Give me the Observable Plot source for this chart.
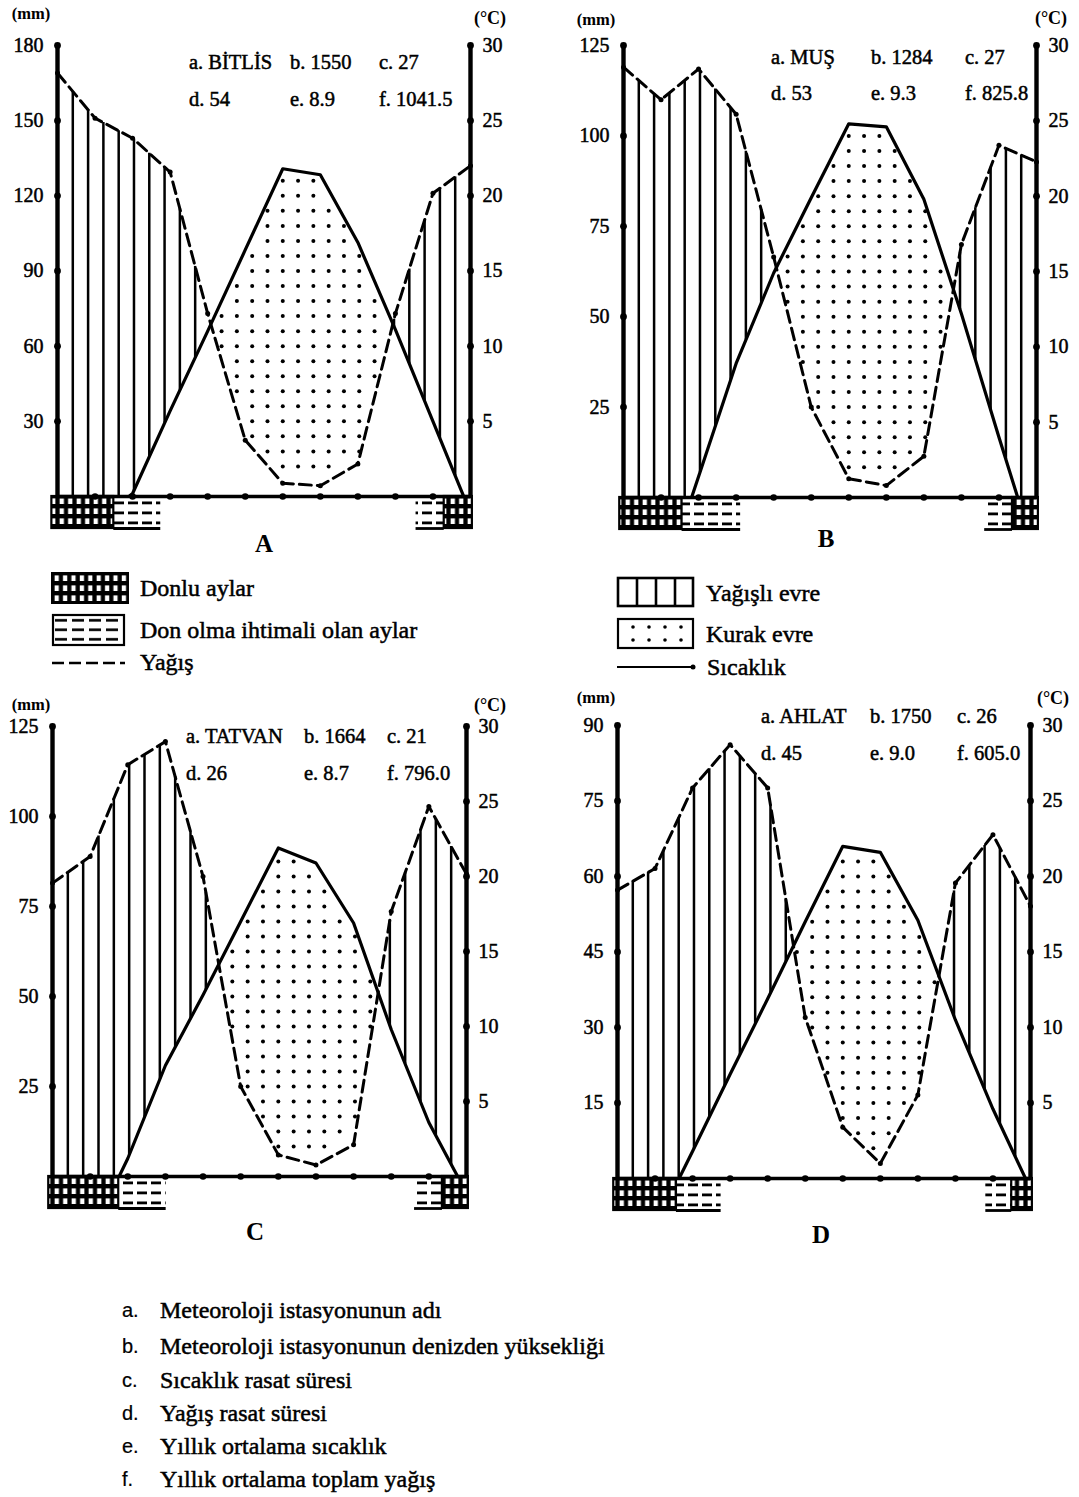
<!DOCTYPE html>
<html><head><meta charset="utf-8">
<script src="https://cdn.jsdelivr.net/npm/d3@7"></script>
<script src="https://cdn.jsdelivr.net/npm/@observablehq/plot@0.6"></script>
<style>
body{margin:0;background:#fff;}
#page{position:relative;width:1079px;height:1497px;overflow:hidden;background:#fff;}
#page svg{position:absolute;overflow:visible;}
.panel text{stroke:#000;stroke-width:0.5px;}
</style></head><body><div id="page"></div>
<script>
// ---------- data ----------
const monthNames = ["Ocak","Şubat","Mart","Nisan","Mayıs","Haziran","Temmuz","Ağustos","Eylül","Ekim","Kasım","Aralık"];
const stationNames = ["BİTLİS","MUŞ","TATVAN","AHLAT"];
const panelLetters = ["A","B","C","D"];
const elevation = ["1550","1284","1664","1750"];
const tempYears = ["27","27","21","26"];
const precipYears = ["54","53","26","45"];
const meanTemp = ["8.9","9.3","8.7","9.0"];
const totalPrecip = ["1041.5","825.8","796.0","605.0"];
const precipMax = [180,125,125,90];
const precipTicks = [[30,60,90,120,150,180],[25,50,75,100,125],[25,50,75,100,125],[15,30,45,60,75,90]];
const tempTicks = [5,10,15,20,25,30];

const precipBitlis = [169,151,143,129.5,73,22.5,5.3,4.3,13,73,121,132];
const tempBitlis   = [-2.0,-1.8,0.2,5.7,11.0,16.4,21.8,21.4,16.9,11.1,5.0,-1.1];
const precipMus    = [119,110,118.5,106,66.5,25,5.2,3.3,11.4,70,97.4,92.8];
const tempMus      = [-8,-6.1,1.4,8.9,14.9,19.9,24.8,24.6,19.8,12.2,4.0,-4.0];
const precipTatvan = [81.5,88.9,114.4,120.8,83.3,25,6,3.2,8.8,73.6,102.8,84];
const tempTatvan   = [-4,-4,1.2,7.4,12.1,17.0,21.9,20.9,16.9,9.8,3.6,-1.1];
const precipAhlat  = [57.3,61.6,77.6,86.2,77.6,32,10.2,3.0,16.6,58.7,68.3,54.1];
const tempAhlat    = [-4,-3.2,1.8,6.9,11.9,17.0,22.0,21.6,17.1,10.5,4.6,-0.7];

// frost periods (month index units, Ocak = 0)
const frostSure = [[[-0.15,1.5],[10.3,11.05]],[[-0.1,1.56],[10.36,11.05]],[[-0.1,1.76],[10.36,11.05]],[[-0.1,1.57],[10.5,11.05]]];
const frostPossible = [[[1.5,2.75],[9.55,10.3]],[[1.56,3.12],[9.62,10.36]],[[1.76,3.02],[9.62,10.36]],[[1.57,2.76],[9.81,10.5]]];

const legendLeft = ["Donlu aylar","Don olma ihtimali olan aylar","Yağış"];
const legendRight = ["Yağışlı evre","Kurak evre","Sıcaklık"];
const noteLetters = ["a.","b.","c.","d.","e.","f."];
const noteTexts = ["Meteoroloji istasyonunun adı","Meteoroloji istasyonunun denizden yüksekliği","Sıcaklık rasat süresi","Yağış rasat süresi","Yıllık ortalama sıcaklık","Yıllık ortalama toplam yağış"];

const precipAll = [precipBitlis, precipMus, precipTatvan, precipAhlat];
const tempAll = [tempBitlis, tempMus, tempTatvan, tempAhlat];

// ---------- layout (page pixels) ----------
const layout = [
  {ox:0,   oy:0,   w:540, h:560, left:57,  right:470,  top:45,  base:496},
  {ox:540, oy:0,   w:539, h:560, left:623, right:1036, top:45,  base:497},
  {ox:0,   oy:680, w:540, h:560, left:52,  right:466,  top:726, base:1176},
  {ox:540, oy:680, w:539, h:560, left:617, right:1030, top:725, base:1178}
];

const page = d3.select("#page");
const SERIF = "'Liberation Serif','Times New Roman',serif";

function lerp(arr, x) {
  const i = Math.max(0, Math.min(arr.length - 2, Math.floor(x)));
  const f = x - i;
  return arr[i] + (arr[i + 1] - arr[i]) * f;
}

function addPatterns(sel, id, ox, oy) {
  const defs = sel.insert("defs", ":first-child");
  const g = defs.append("pattern").attr("id", "grid" + id).attr("patternUnits", "userSpaceOnUse")
    .attr("width", 8.5).attr("height", 10).attr("x", ox).attr("y", oy);
  g.append("rect").attr("width", 8.5).attr("height", 10).attr("fill", "#000");
  g.append("rect").attr("x", 2.6).attr("y", 2.4).attr("width", 4.3).attr("height", 5.6).attr("fill", "#fff");
  const d = defs.append("pattern").attr("id", "dash" + id).attr("patternUnits", "userSpaceOnUse")
    .attr("width", 14).attr("height", 10).attr("x", ox + 1).attr("y", oy);
  d.append("rect").attr("width", 14).attr("height", 10).attr("fill", "#fff");
  d.append("rect").attr("x", 0).attr("y", 5.5).attr("width", 10).attr("height", 2.8).attr("fill", "#000");
}

function drawPanel(k) {
  const P = precipAll[k], T = tempAll[k], pmax = precipMax[k], r = pmax / 30;
  const L = layout[k];
  const pxPerUnit = (L.base - L.top) / pmax;
  const bandDepth = 32 / pxPerUnit;
  const rows = monthNames.map((m, i) => ({i, m, p: P[i], t: T[i] * r}));
  const nStep = 27, step = 11 / nStep;
  const hatch = d3.range(nStep + 1).map(j => {
    const x = j * step;
    return {x, p: lerp(P, x), t: Math.max(0, lerp(T, x) * r)};
  }).filter(d => d.p > d.t + 0.3 * r);
  const arid = [];
  for (let j = -20; j <= 20; j++) {
    const x = 6 + j * step;
    if (x <= 0.1 || x >= 10.9) continue;
    const p = lerp(P, x), t = lerp(T, x) * r;
    for (let c = 1; c < 30; c++) {
      const y = c * r;
      if (y > p + 0.45 * r && y < t - 0.45 * r) arid.push({x, y});
    }
  }
  const sure = frostSure[k].map(([a, b]) => ({a, b}));
  const poss = frostPossible[k].map(([a, b]) => ({a, b}));
  const mL = L.left - L.ox, mR = L.ox + L.w - L.right, mT = L.top - L.oy, mB = L.oy + L.h - L.base;

  const svg = Plot.plot({
    width: L.w, height: L.h,
    marginLeft: mL, marginRight: mR, marginTop: mT, marginBottom: mB,
    className: "panel",
    style: {background: "transparent", fontFamily: SERIF, fontSize: "20px", color: "#000", overflow: "visible"},
    x: {domain: [0, 11], axis: null},
    y: {domain: [0, pmax]},
    marks: [
      Plot.ruleX(hatch, {x: "x", y1: "t", y2: "p", stroke: "#000", strokeWidth: 2.5}),
      Plot.dot(arid, {x: "x", y: "y", r: 2, fill: "#000", stroke: null}),
      Plot.line(rows, {x: "i", y: "t", stroke: "#000", strokeWidth: 3.2, clip: true}),
      Plot.line(rows, {x: "i", y: "p", stroke: "#000", strokeWidth: 3, strokeDasharray: "12,6"}),
      Plot.dot(rows, {x: "i", y: "p", r: 2.5, fill: "#000", stroke: null}),
      Plot.rect(poss, {x1: "a", x2: "b", y1: 0, y2: -bandDepth, fill: `url(#dash${k})`}),
      Plot.ruleY(poss, {x1: "a", x2: "b", y: -bandDepth, stroke: "#000", strokeWidth: 2.8}),
      Plot.rect(sure, {x1: "a", x2: "b", y1: 0, y2: -bandDepth, fill: `url(#grid${k})`, stroke: "#000", strokeWidth: 2.2}),
      Plot.ruleX([0, 11], {y1: 0, y2: pmax, stroke: "#000", strokeWidth: 4.4}),
      Plot.ruleY([0], {x1: 0, x2: 11, stroke: "#000", strokeWidth: 3.4}),
      Plot.dot(precipTicks[k], {x: 0, y: d => d, r: 3.4, fill: "#000", stroke: null}),
      Plot.dot(tempTicks, {x: 11, y: d => d * r, r: 3.4, fill: "#000", stroke: null}),
      Plot.dot(d3.range(1, 11), {x: d => d, y: 0, r: 3.3, fill: "#000", stroke: null}),
      Plot.axisY(precipTicks[k], {anchor: "left", tickSize: 0, tickPadding: 14, label: null, fontSize: 20}),
      Plot.axisY(tempTicks.map(t => t * r), {anchor: "right", tickSize: 0, tickPadding: 12, label: null, fontSize: 20, tickFormat: d => String(Math.round(d / r))})
    ]
  });
  const sel = d3.select(svg);
  addPatterns(sel, k, mL, L.h - mB);
  sel.style("left", L.ox + "px").style("top", L.oy + "px");
  page.node().appendChild(svg);
}

for (let k = 0; k < 4; k++) drawPanel(k);

// ---------- overlay: texts and legend ----------
const ov = page.append("svg").attr("width", 1079).attr("height", 1497).style("left", "0px").style("top", "0px")
  .attr("font-family", SERIF).attr("fill", "#000");
const odefs = ov.append("defs");
{
  const g = odefs.append("pattern").attr("id", "lgrid").attr("patternUnits", "userSpaceOnUse")
    .attr("width", 8.4).attr("height", 10).attr("x", 52).attr("y", 573);
  g.append("rect").attr("width", 8.4).attr("height", 10).attr("fill", "#000");
  g.append("rect").attr("x", 2.6).attr("y", 2.4).attr("width", 4.2).attr("height", 5.6).attr("fill", "#fff");
  const d = odefs.append("pattern").attr("id", "ldash").attr("patternUnits", "userSpaceOnUse")
    .attr("width", 17).attr("height", 9.5).attr("x", 55).attr("y", 616);
  d.append("rect").attr("width", 17).attr("height", 9.5).attr("fill", "#fff");
  d.append("rect").attr("x", 0).attr("y", 3).attr("width", 12).attr("height", 2.6).attr("fill", "#000");
}

function txt(x, y, s, size, opts = {}) {
  ov.append("text").attr("x", x).attr("y", y).attr("dy", "0.35em")
    .attr("font-size", size)
    .attr("font-weight", opts.bold ? "bold" : null)
    .attr("font-family", opts.family || null)
    .attr("text-anchor", opts.anchor || "start")
    .attr("stroke", "#000").attr("stroke-width", opts.sw ?? 0.5)
    .text(s);
}

const textPos = [
  {mm:[31,13], c:[490,18], r1:62, r2:99, cols:[189,290,379], letter:[264,543]},
  {mm:[596,19], c:[1051,18], r1:57, r2:93, cols:[771,871,965], letter:[826,538]},
  {mm:[31,704], c:[490,705], r1:736, r2:773, cols:[186,304,387], letter:[255,1231]},
  {mm:[596,697], c:[1053,698], r1:716, r2:753, cols:[761,870,957], letter:[821,1234]}
];
for (let k = 0; k < 4; k++) {
  const p = textPos[k];
  txt(p.mm[0], p.mm[1], "(mm)", 16.5, {bold: true, anchor: "middle", sw: 0});
  txt(p.c[0], p.c[1], "(°C)", 18, {bold: true, anchor: "middle", sw: 0});
  txt(p.cols[0], p.r1, "a. " + stationNames[k], 20.5);
  txt(p.cols[1], p.r1, "b. " + elevation[k], 20.5);
  txt(p.cols[2], p.r1, "c. " + tempYears[k], 20.5);
  txt(p.cols[0], p.r2, "d. " + precipYears[k], 20.5);
  txt(p.cols[1], p.r2, "e. " + meanTemp[k], 20.5);
  txt(p.cols[2], p.r2, "f. " + totalPrecip[k], 20.5);
  txt(p.letter[0], p.letter[1], panelLetters[k], 25, {bold: true, anchor: "middle", sw: 0});
}

// legend
ov.append("rect").attr("x", 52).attr("y", 573).attr("width", 76).attr("height", 30).attr("fill", "url(#lgrid)").attr("stroke", "#000").attr("stroke-width", 2);
ov.append("rect").attr("x", 53).attr("y", 615).attr("width", 71).attr("height", 30).attr("fill", "url(#ldash)").attr("stroke", "#000").attr("stroke-width", 2.2);
ov.append("line").attr("x1", 52).attr("x2", 125).attr("y1", 663).attr("y2", 663).attr("stroke", "#000").attr("stroke-width", 2.6).attr("stroke-dasharray", "12,5");
txt(140, 588, legendLeft[0], 24);
txt(140, 630, legendLeft[1], 24);
txt(140, 662, legendLeft[2], 24);

ov.append("rect").attr("x", 618).attr("y", 578).attr("width", 75).attr("height", 28).attr("fill", "#fff").attr("stroke", "#000").attr("stroke-width", 2.6);
[637, 656, 675].forEach(x => ov.append("line").attr("x1", x).attr("x2", x).attr("y1", 578).attr("y2", 606).attr("stroke", "#000").attr("stroke-width", 2.6));
ov.append("rect").attr("x", 618).attr("y", 619).attr("width", 75).attr("height", 29).attr("fill", "#fff").attr("stroke", "#000").attr("stroke-width", 2.2);
[633, 649, 665, 681].forEach(x => [627, 640].forEach(y => ov.append("circle").attr("cx", x).attr("cy", y).attr("r", 1.8).attr("fill", "#000")));
ov.append("line").attr("x1", 617).attr("x2", 692).attr("y1", 667).attr("y2", 667).attr("stroke", "#000").attr("stroke-width", 2);
ov.append("circle").attr("cx", 693).attr("cy", 667).attr("r", 2.5).attr("fill", "#000");
txt(706, 593, legendRight[0], 24);
txt(706, 634, legendRight[1], 24);
txt(707, 667, legendRight[2], 24);

// notes
const noteY = [1310, 1346, 1380, 1413, 1446, 1479];
noteLetters.forEach((l, i) => {
  txt(122, noteY[i], l, 20, {family: "'Liberation Sans',Arial,sans-serif", sw: 0.2});
  txt(160, noteY[i], noteTexts[i], 24);
});
</script></body></html>
